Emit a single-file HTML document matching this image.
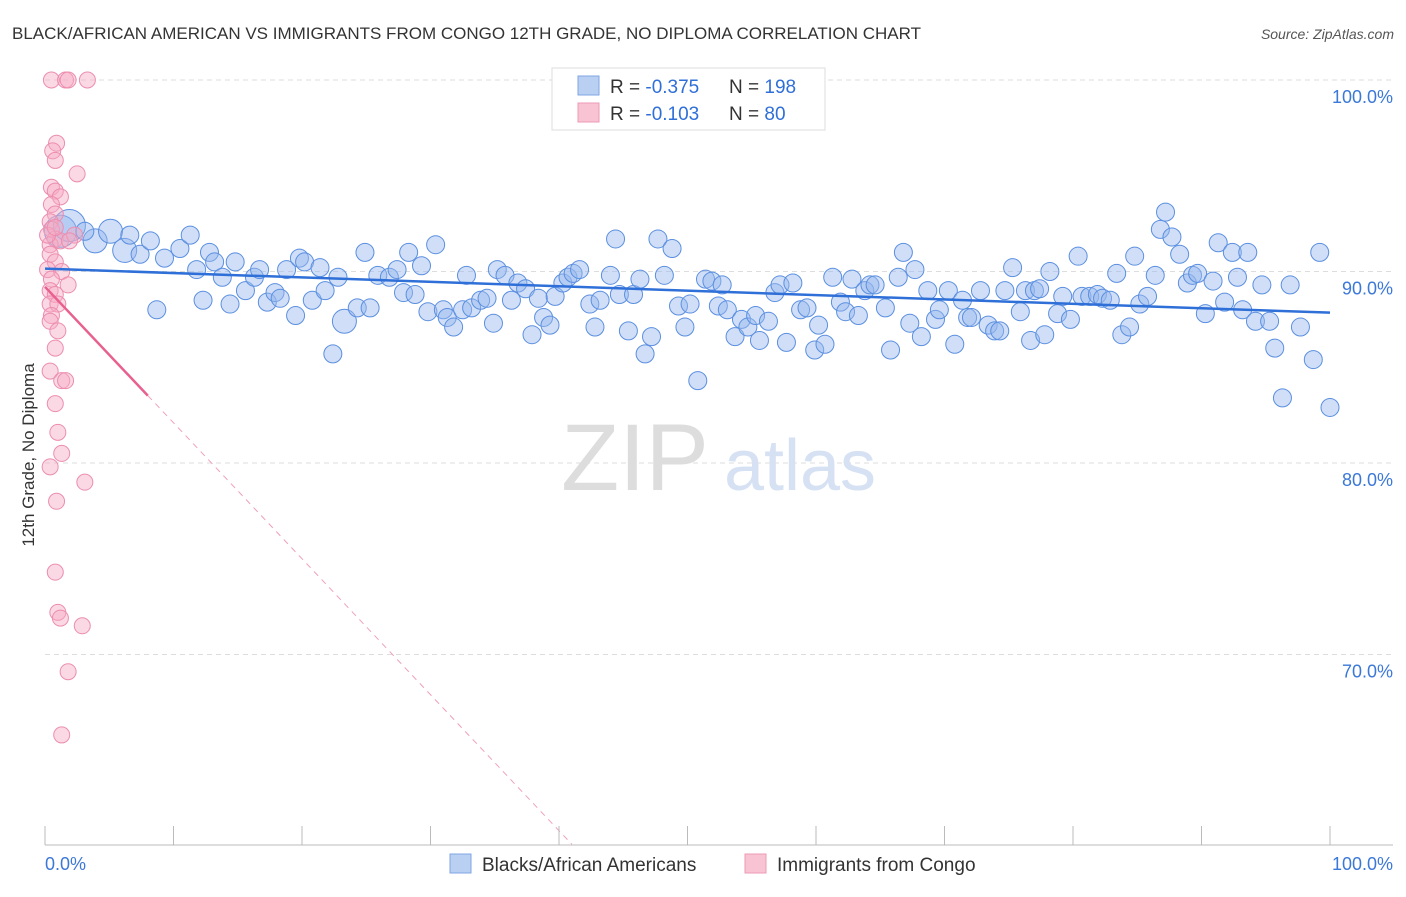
<!DOCTYPE html>
<html><head><meta charset="utf-8"><style>
body{margin:0;background:#fff;font-family:"Liberation Sans",sans-serif;}
svg text{font-family:"Liberation Sans",sans-serif;}
</style></head><body>
<svg id="chart" width="1406" height="892" xmlns="http://www.w3.org/2000/svg">
<text x="12" y="39" font-size="17" fill="#333">BLACK/AFRICAN AMERICAN VS IMMIGRANTS FROM CONGO 12TH GRADE, NO DIPLOMA CORRELATION CHART</text>
<text x="1394" y="39" font-size="14" fill="#555" font-style="italic" text-anchor="end">Source: ZipAtlas.com</text>
<text transform="translate(34,455) rotate(-90)" font-size="17" fill="#333" text-anchor="middle">12th Grade, No Diploma</text>
<g id="grid"></g>
<g>
<text x="635" y="490" font-size="95" font-family="Liberation Serif" fill="#ddd" text-anchor="middle">ZIP</text>
<text x="800" y="490" font-size="72" fill="#d6e2f3" text-anchor="middle">atlas</text>
</g>
<g id="pts"></g>
<g id="trends"></g>
<g id="axes"></g>
<g>
<rect x="552" y="68" width="273" height="62" fill="#fff" stroke="#ddd"/>
<rect x="578" y="76" width="21" height="19" fill="#b9d0f3" stroke="#7fa6e3"/>
<rect x="578" y="103" width="21" height="19" fill="#f8c4d4" stroke="#ee9ab5"/>
<text x="610" y="93" font-size="19" fill="#333">R = <tspan fill="#2f6fd8">-0.375</tspan></text>
<text x="729" y="93" font-size="19" fill="#333">N = <tspan fill="#2f6fd8">198</tspan></text>
<text x="610" y="120" font-size="19" fill="#333">R = <tspan fill="#2f6fd8"> -0.103</tspan></text>
<text x="729" y="120" font-size="19" fill="#333">N = <tspan fill="#2f6fd8"> 80</tspan></text>
</g>
<g>
<rect x="450" y="854" width="21" height="19" fill="#b9d0f3" stroke="#7fa6e3"/>
<text x="482" y="871" font-size="19" fill="#333">Blacks/African Americans</text>
<rect x="745" y="854" width="21" height="19" fill="#f8c4d4" stroke="#ee9ab5"/>
<text x="777" y="871" font-size="19" fill="#333">Immigrants from Congo</text>
</g>
</svg>
<script>
const blueX=[1.2,1.9,3.9,3.1,5.1,6.2,7.4,6.6,8.2,9.3,10.5,11.3,12.8,13.2,11.8,12.3,14.4,13.8,14.8,15.6,16.3,16.7,17.3,17.9,18.8,18.3,19.5,19.8,20.2,20.8,21.4,21.8,22.4,22.8,23.3,24.3,24.9,25.3,25.9,26.8,27.4,27.9,28.3,28.8,29.3,29.8,30.4,31.0,31.3,31.8,32.5,32.8,33.2,33.9,34.4,34.9,35.2,35.8,36.3,36.8,37.4,37.9,38.4,38.8,39.3,39.7,40.3,40.7,41.1,41.6,42.4,42.8,43.2,44.0,44.4,44.7,45.4,45.8,46.3,46.7,47.2,47.7,48.2,48.8,49.3,49.8,50.2,50.8,51.4,51.9,52.4,52.7,53.1,53.7,54.2,54.7,55.3,55.6,56.3,56.8,57.2,57.7,58.2,58.8,59.3,59.9,60.2,60.7,61.3,61.9,62.3,62.8,63.3,63.8,64.2,64.6,65.4,65.8,66.4,66.8,67.3,67.7,68.2,68.7,69.3,69.6,70.3,70.8,71.4,71.8,72.1,72.8,73.4,73.9,74.3,74.7,75.3,75.9,76.3,76.7,77.0,77.4,77.8,78.2,78.8,79.2,79.8,80.4,80.7,81.3,81.9,82.3,82.9,83.4,83.8,84.4,84.8,85.2,85.8,86.4,86.8,87.2,87.7,88.3,88.9,89.3,89.7,90.3,90.9,91.3,91.8,92.4,92.8,93.2,93.6,94.2,94.7,95.3,95.7,96.3,96.9,97.7,98.7,99.2,100.0,8.7];
const blueY=[92.1,92.4,91.6,92.1,92.1,91.1,90.9,91.9,91.6,90.7,91.2,91.9,91.0,90.5,90.1,88.5,88.3,89.7,90.5,89.0,89.7,90.1,88.4,88.9,90.1,88.6,87.7,90.7,90.5,88.5,90.2,89.0,85.7,89.7,87.4,88.1,91.0,88.1,89.8,89.7,90.1,88.9,91.0,88.8,90.3,87.9,91.4,88.0,87.6,87.1,88.0,89.8,88.1,88.5,88.6,87.3,90.1,89.8,88.5,89.4,89.1,86.7,88.6,87.6,87.2,88.7,89.4,89.7,89.9,90.1,88.3,87.1,88.5,89.8,91.7,88.8,86.9,88.8,89.6,85.7,86.6,91.7,89.8,91.2,88.2,87.1,88.3,84.3,89.6,89.5,88.2,89.3,88.0,86.6,87.5,87.1,87.7,86.4,87.4,88.9,89.3,86.3,89.4,88.0,88.1,85.9,87.2,86.2,89.7,88.4,87.9,89.6,87.7,89.0,89.3,89.3,88.1,85.9,89.7,91.0,87.3,90.1,86.6,89.0,87.5,88.0,89.0,86.2,88.5,87.6,87.6,89.0,87.2,86.9,86.9,89.0,90.2,87.9,89.0,86.4,89.0,89.1,86.7,90.0,87.8,88.7,87.5,90.8,88.7,88.7,88.8,88.6,88.5,89.9,86.7,87.1,90.8,88.3,88.7,89.8,92.2,93.1,91.8,90.9,89.4,89.8,89.9,87.8,89.5,91.5,88.4,91.0,89.7,88.0,91.0,87.4,89.3,87.4,86.0,83.4,89.3,87.1,85.4,91.0,82.9,88.0];
const blueBig=[0,1,2,4,5,34,193];
const pinkX=[0.5,1.6,1.8,3.3,0.9,0.6,0.8,2.5,0.5,0.8,1.2,0.5,0.8,0.4,0.5,0.8,0.4,1.2,0.4,0.8,0.2,1.3,0.5,1.8,0.4,0.8,0.4,1.0,0.5,0.4,1.0,0.8,0.4,1.3,1.6,0.8,1.0,1.3,0.4,3.1,0.9,0.8,1.0,1.2,2.9,1.8,1.3,2.3,1.9,0.2,0.8];
const pinkY=[100,100,100,100,96.7,96.3,95.8,95.1,94.4,94.2,93.9,93.5,93.0,92.6,92.2,91.7,91.4,91.6,90.9,90.5,90.1,90.0,89.6,89.3,89.0,88.8,88.3,88.3,87.7,87.4,86.9,86.0,84.8,84.3,84.3,83.1,81.6,80.5,79.8,79.0,78.0,74.3,72.2,71.9,71.5,69.1,65.8,91.9,91.6,91.9,92.3];
const blueTrend=[90.15,87.85];
const pinkTrend={b:89.2,m:-0.71,solidEnd:8,dashEnd:41};
const xTicks=[0,10,20,30,40,50,60,70,80,90,100];
const yTicks=[100,90,80,70];
const X=v=>45+v*12.85, Y=v=>80+(100-v)*19.15;
const NS="http://www.w3.org/2000/svg";
function mk(p,t,a){const e=document.createElementNS(NS,t);for(const k in a)e.setAttribute(k,a[k]);p.appendChild(e);return e;}
const grid=document.getElementById('grid'),axes=document.getElementById('axes'),pts=document.getElementById('pts'),tr=document.getElementById('trends');
yTicks.forEach(v=>{const l=mk(grid,'line',{x1:45,x2:1393,y1:Y(v),y2:Y(v),stroke:'#ddd','stroke-dasharray':'5,4'});


const t=mk(axes,'text',{x:1393,y:Y(v)+23,'font-size':18,fill:'#3b78d8','text-anchor':'end'});t.textContent=v.toFixed(1)+'%';

});
const ax=mk(axes,'line',{x1:45,x2:1393,y1:845,y2:845,stroke:'#bbb'});


xTicks.forEach(v=>{const l=mk(axes,'line',{x1:X(v),x2:X(v),y1:826,y2:845,stroke:'#bbb'});

});
const t0=mk(axes,'text',{x:45,y:870,'font-size':18,fill:'#3b78d8'});t0.textContent='0.0%';


const t1=mk(axes,'text',{x:1393,y:870,'font-size':18,fill:'#3b78d8','text-anchor':'end'});t1.textContent='100.0%';


blueX.forEach((v,i)=>{const r=blueBig.includes(i)?(i<2?16:12):9;const c=mk(pts,'circle',{cx:X(v),cy:Y(blueY[i]),r:r,fill:'rgba(150,185,238,0.45)',stroke:'#5b8fe0','stroke-width':1});

});
pinkX.forEach((v,i)=>{const c=mk(pts,'circle',{cx:X(v),cy:Y(pinkY[i]),r:8,fill:'rgba(246,170,195,0.45)',stroke:'#ec8db0','stroke-width':1});

});
const bl=mk(tr,'line',{x1:X(0),y1:Y(blueTrend[0]),x2:X(100),y2:Y(blueTrend[1]),stroke:'#2f6fd8','stroke-width':2.5});


const pe=x=>pinkTrend.b+pinkTrend.m*x;
const ps=mk(tr,'line',{x1:X(0),y1:Y(pe(0)),x2:X(pinkTrend.solidEnd),y2:Y(pe(pinkTrend.solidEnd)),stroke:'#e8608f','stroke-width':2.5});


const pd=mk(tr,'line',{x1:X(pinkTrend.solidEnd),y1:Y(pe(pinkTrend.solidEnd)),x2:X(pinkTrend.dashEnd),y2:Y(pe(pinkTrend.dashEnd)),stroke:'#eea0bb','stroke-width':1,'stroke-dasharray':'6,5'});


</script>
</body></html>
